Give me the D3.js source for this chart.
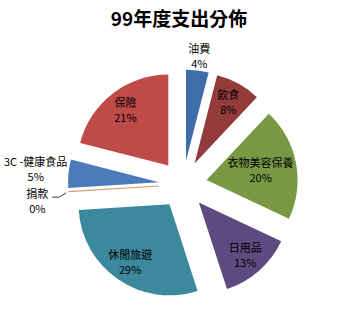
<!DOCTYPE html>
<html>
<head>
<meta charset="utf-8">
<script src="https://cdn.jsdelivr.net/npm/d3@7"></script>
<style>
  body { margin: 0; background: #fff; }
  text { font-family: "Noto Sans CJK TC", "Noto Sans", sans-serif; }
</style>
</head>
<body>
<svg id="main-chart"></svg>
<script>
const title = "99年度支出分佈";
const categories = ["油費", "飲食", "衣物美容保養", "日用品", "休閒旅遊", "捐款", "3C -健康食品", "保險"];
const values = [4, 8, 20, 13, 29, 0, 5, 21];
const colors = ["#3E6DAA", "#923B3A", "#789844", "#5F4A7F", "#3C889D", "#D39A6E", "#4A7BBA", "#BE4B48"];

const width = 364;
const height = 317;
const cx = 183, cy = 184.5;
const radius = 91;
const explode = 24;

// distance of label centre from the exploded slice's apex
const labelRadius = {"油費": 106, "衣物美容保養": 55, "捐款": 122, "3C -健康食品": 124};
const labelShift = {"捐款": 7.5, "3C -健康食品": -2};

const svg = d3.select("#main-chart")
  .attr("width", width)
  .attr("height", height);

svg.append("text")
  .attr("x", 179)
  .attr("y", 26)
  .attr("text-anchor", "middle")
  .attr("font-size", 19)
  .attr("font-weight", "bold")
  .text(title);

const pie = d3.pie().sort(null).value(d => d.value);
const arcs = pie(categories.map((c, i) => ({name: c, value: values[i], color: colors[i]})));
const arc = d3.arc().innerRadius(0).outerRadius(radius);

const g = svg.append("g").attr("transform", `translate(${cx},${cy})`);

const dir = a => [Math.sin(a), -Math.cos(a)];

const slice = g.selectAll(".slice")
  .data(arcs)
  .join("g")
  .attr("class", "slice")
  .attr("transform", d => {
    const [dx, dy] = dir((d.startAngle + d.endAngle) / 2);
    return `translate(${dx * explode},${dy * explode})`;
  });

slice.filter(d => d.value > 0)
  .append("path")
  .attr("d", arc)
  .attr("fill", d => d.data.color);

// zero slices show as a thin line
slice.filter(d => d.value === 0)
  .append("line")
  .attr("x1", 0).attr("y1", 0)
  .attr("x2", d => dir(d.startAngle)[0] * radius)
  .attr("y2", d => dir(d.startAngle)[1] * radius)
  .attr("stroke", d => d.data.color)
  .attr("stroke-width", 1.2);

slice.each(function(d) {
  const mid = (d.startAngle + d.endAngle) / 2;
  const lr = labelRadius[d.data.name] || 70;
  const [ux, uy] = dir(mid);
  let x = ux * lr, y = uy * lr + (labelShift[d.data.name] || 0);
  const t = d3.select(this).append("text")
    .attr("text-anchor", "middle")
    .attr("font-size", 11)
    .attr("fill", "#000");
  t.append("tspan").attr("x", x).attr("y", y - 3).text(d.data.name);
  t.append("tspan").attr("x", x).attr("y", y + 12).text(d.data.value + "%");

  if (d.value === 0) {
    const ox = ux * radius, oy = uy * radius;
    d3.select(this).append("polyline")
      .attr("points", [[ox - 2, oy + 1], [x + 22, y - 4], [x + 15, y - 4]].join(" "))
      .attr("fill", "none")
      .attr("stroke", "#000")
      .attr("stroke-width", 0.8);
  }
});
</script>
</body>
</html>
